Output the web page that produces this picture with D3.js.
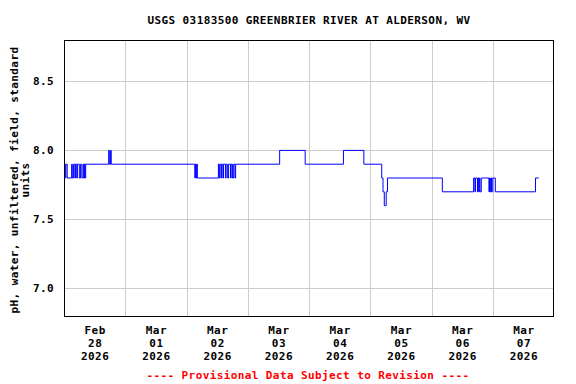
<!DOCTYPE html>
<html>
<head>
<meta charset="utf-8">
<script src="https://cdn.jsdelivr.net/npm/d3@7"></script>
<style>
  html, body { margin: 0; padding: 0; background: #fff; }
  svg { display: block; }
  text { font-family: "DejaVu Sans Mono", "Liberation Mono", monospace; font-weight: bold; }
</style>
</head>
<body>
<script>
// ---- Data ----
const chartTitle = "USGS 03183500 GREENBRIER RIVER AT ALDERSON, WV";
const yLabelLines = ["pH, water, unfiltered, field, standard", "units"];
const footnote = "---- Provisional Data Subject to Revision ----";

const times = [
  "2026-02-28 00:15","2026-02-28 00:30","2026-02-28 00:45","2026-02-28 01:15",
  "2026-02-28 03:00","2026-02-28 03:15",
  "2026-02-28 03:45","2026-02-28 04:15","2026-02-28 04:30","2026-02-28 05:00",
  "2026-02-28 05:15","2026-02-28 06:00","2026-02-28 06:30","2026-02-28 07:00",
  "2026-02-28 07:30","2026-02-28 07:45","2026-02-28 08:00","2026-02-28 08:15",
  "2026-02-28 08:30","2026-02-28 17:30","2026-02-28 17:45","2026-02-28 18:15",
  "2026-02-28 18:30",
  "2026-03-02 03:15","2026-03-02 03:30","2026-03-02 03:45","2026-03-02 04:00",
  "2026-03-02 04:15","2026-03-02 12:30","2026-03-02 12:45","2026-03-02 13:00",
  "2026-03-02 13:30","2026-03-02 13:45","2026-03-02 14:15","2026-03-02 14:30",
  "2026-03-02 15:15","2026-03-02 15:30","2026-03-02 16:00","2026-03-02 16:30",
  "2026-03-02 17:15","2026-03-02 17:30","2026-03-02 18:00","2026-03-02 18:30",
  "2026-03-02 19:00","2026-03-02 19:15",
  "2026-03-03 12:30","2026-03-03 22:30","2026-03-04 13:30","2026-03-04 21:30",
  "2026-03-05 04:30","2026-03-05 05:00","2026-03-05 05:30","2026-03-05 06:15",
  "2026-03-05 06:45","2026-03-06 04:15","2026-03-06 16:30","2026-03-06 17:00",
  "2026-03-06 17:15","2026-03-06 18:00","2026-03-06 18:15","2026-03-06 18:30",
  "2026-03-06 18:45","2026-03-06 19:00","2026-03-06 19:30","2026-03-06 22:30",
  "2026-03-06 22:45","2026-03-06 23:00","2026-03-06 23:15","2026-03-06 23:30",
  "2026-03-07 00:00","2026-03-07 01:00","2026-03-07 16:45","2026-03-07 18:00"
];
const phValues = [
  7.9,7.8,7.9,7.8,
  7.9,7.8,
  7.9,7.8,7.9,7.8,
  7.9,7.8,7.9,7.8,
  7.9,7.8,7.9,7.8,
  7.9,8.0,7.9,8.0,
  7.9,
  7.8,7.9,7.8,7.9,
  7.8,7.9,7.8,7.9,
  7.8,7.9,7.8,7.9,
  7.8,7.9,7.8,7.9,
  7.8,7.9,7.8,7.9,
  7.8,7.9,
  8.0,7.9,8.0,7.9,
  7.8,7.7,7.6,7.7,
  7.8,7.7,7.8,7.7,
  7.8,7.7,7.8,7.7,
  7.8,7.7,7.8,7.7,
  7.8,7.7,7.8,7.7,
  7.8,7.7,7.8,7.8
];

const yTicks = [7.0, 7.5, 8.0, 8.5];
const tickMonths = ["Feb","Mar","Mar","Mar","Mar","Mar","Mar","Mar"];
const tickDays   = ["28","01","02","03","04","05","06","07"];
const tickYears  = ["2026","2026","2026","2026","2026","2026","2026","2026"];
const tickDates  = ["2026-02-28","2026-03-01","2026-03-02","2026-03-03","2026-03-04","2026-03-05","2026-03-06","2026-03-07"];
const xStart = "2026-02-28 00:00", xEnd = "2026-03-08 00:00";

// ---- Drawing ----
const W = 576, H = 384;
const pLeft = 64, pRight = 554, pTop = 40, pBottom = 316;
const parseT = d3.timeParse("%Y-%m-%d %H:%M");
const parseD = d3.timeParse("%Y-%m-%d");

const data = times.map((t, i) => ({ t: parseT(t), v: phValues[i] }));

const x = d3.scaleTime().domain([parseT(xStart), parseT(xEnd)]).range([pLeft, pRight]);
const y = d3.scaleLinear().domain([6.8, 8.8]).range([pBottom, pTop]);

const svg = d3.select("body").append("svg").attr("width", W).attr("height", H);
svg.append("rect").attr("width", W).attr("height", H).attr("fill", "#fff");

const fontSize = 11, ls = 0.4;

// grid: vertical at midnight
const midnights = tickDates.slice(1).map(parseD);
svg.append("g").selectAll("line").data(midnights).join("line")
  .attr("x1", d => Math.round(x(d)) + 0.5).attr("x2", d => Math.round(x(d)) + 0.5)
  .attr("y1", pTop).attr("y2", pBottom)
  .attr("stroke", "#cccccc").attr("stroke-width", 1);
svg.append("g").selectAll("line").data(yTicks).join("line")
  .attr("x1", pLeft).attr("x2", pRight)
  .attr("y1", d => Math.round(y(d)) + 0.5).attr("y2", d => Math.round(y(d)) + 0.5)
  .attr("stroke", "#cccccc").attr("stroke-width", 1);

// data line
const line = d3.line().x(d => x(d.t)).y(d => y(d.v)).curve(d3.curveStepAfter);
svg.append("path").datum(data).attr("d", line)
  .attr("fill", "none").attr("stroke", "#0000ff").attr("stroke-width", 1);

// frame
svg.append("rect").attr("x", pLeft + 0.5).attr("y", pTop + 0.5)
  .attr("width", pRight - pLeft - 1).attr("height", pBottom - pTop)
  .attr("fill", "none").attr("stroke", "#000").attr("stroke-width", 1);

// y axis labels
const yAxis = d3.axisLeft(y).tickValues(yTicks).tickFormat(d3.format(".1f")).tickSize(0).tickPadding(10);
const gy = svg.append("g").attr("transform", `translate(${pLeft},0)`).call(yAxis);
gy.select(".domain").remove();
gy.selectAll("text").attr("font-size", fontSize).attr("letter-spacing", ls)
  .attr("fill", "#000").style("font-family", "DejaVu Sans Mono").style("font-weight", "bold");

// x axis labels (at noon of each day), three lines
const noons = tickDates.map(d => d3.timeHour.offset(parseD(d), 12));
const xAxis = d3.axisBottom(x).tickValues(noons).tickSize(0).tickFormat(() => "");
const gx = svg.append("g").attr("transform", `translate(0,${pBottom})`).call(xAxis);
gx.select(".domain").remove();
gx.selectAll(".tick text").each(function(d, i) {
  const t = d3.select(this).attr("y", 0).attr("dy", null)
    .attr("font-size", fontSize).attr("letter-spacing", ls).attr("fill", "#000")
    .style("font-family", "DejaVu Sans Mono").style("font-weight", "bold");
  [tickMonths[i], tickDays[i], tickYears[i]].forEach((s, k) => {
    t.append("tspan").attr("x", 0).attr("y", 18 + k * 13).text(s);
  });
});

// title
svg.append("text").attr("x", 309).attr("y", 24).attr("text-anchor", "middle")
  .attr("font-size", fontSize).attr("letter-spacing", ls).text(chartTitle);

// y label
const yl = svg.append("text").attr("transform", `translate(0,${(pTop + pBottom) / 2 + 2}) rotate(-90)`)
  .attr("text-anchor", "middle").attr("font-size", fontSize).attr("letter-spacing", ls);
yLabelLines.forEach((s, k) => {
  yl.append("tspan").attr("x", 0).attr("y", 18 + k * 11).text(s);
});

// footnote
svg.append("text").attr("x", 308).attr("y", 379).attr("text-anchor", "middle")
  .attr("font-size", fontSize).attr("letter-spacing", ls).attr("fill", "#ff0000").text(footnote);
</script>
</body>
</html>
